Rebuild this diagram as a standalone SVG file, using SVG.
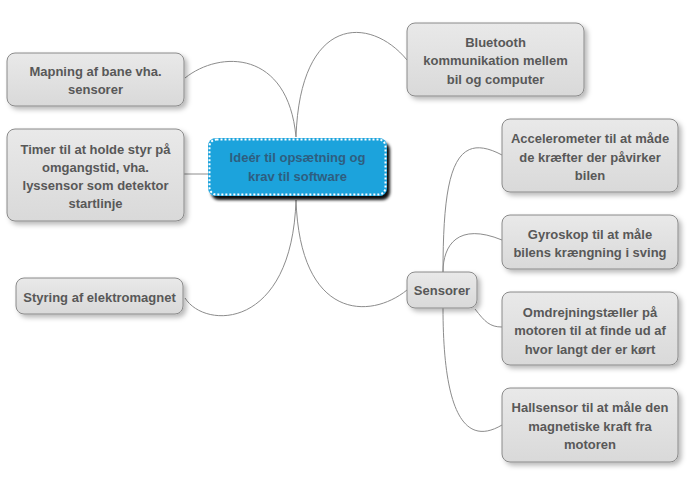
<svg xmlns="http://www.w3.org/2000/svg" width="691" height="478" viewBox="0 0 691 478">
<defs>
<linearGradient id="g" x1="0" y1="0" x2="0" y2="1">
<stop offset="0" stop-color="#e9e9e9"/>
<stop offset="1" stop-color="#d9d9d9"/>
</linearGradient>
<filter id="sh" x="-10%" y="-10%" width="130%" height="140%">
<feDropShadow dx="3" dy="3" stdDeviation="2.5" flood-color="#000" flood-opacity="0.28"/>
</filter>
<filter id="shc" x="-10%" y="-10%" width="130%" height="140%">
<feDropShadow dx="3" dy="4" stdDeviation="1.5" flood-color="#000" flood-opacity="0.95"/>
</filter>
</defs>
<style>
.box{fill:url(#g);stroke:#8a8a8a;stroke-width:1;filter:url(#sh)}
.t{font-family:"Liberation Sans",Arial,sans-serif;font-size:13px;font-weight:bold;fill:#585858;text-anchor:middle}
.ct{font-family:"Liberation Sans",Arial,sans-serif;font-size:13px;font-weight:bold;fill:#2e5e80;text-anchor:middle}
.c{fill:none;stroke:#8c8c8c;stroke-width:1}
</style>
<rect width="691" height="478" fill="#fff"/>
<g id="connectors">
<path class="c" d="M296 137 C288 50,220 50,185 78"/>
<path class="c" d="M296 137 C300 15,370 15,407 60"/>
<path class="c" d="M184 174 L208 174"/>
<path class="c" d="M296 200 C292 330,205 330,185 298"/>
<path class="c" d="M296 200 C300 320,370 320,407 290"/>
<path class="c" d="M443 272 C443 170,455 130,502 155"/>
<path class="c" d="M443 272 C443 245,458 222,502 240"/>
<path class="c" d="M475 309 C485 322,490 327,502 327"/>
<path class="c" d="M443 308 C443 400,460 450,502 425"/>
</g>
<g id="central">
<rect x="208" y="138" width="179" height="58" rx="8" fill="#1fa3dc" filter="url(#shc)"/>
<rect x="209.5" y="139.5" width="176" height="55" rx="7" fill="none" stroke="#fff" stroke-width="2" stroke-dasharray="2 2"/>
<text class="ct" x="297.5" y="161.5">Ideér til opsætning og</text>
<text class="ct" x="297.5" y="180.5">krav til software</text>
</g>
<g id="mapning">
<rect class="box" x="7" y="53" width="177" height="53" rx="8"/>
<text class="t" x="95.5" y="76">Mapning af bane vha.</text>
<text class="t" x="95.5" y="94">sensorer</text>
</g>
<g id="timer">
<rect class="box" x="7" y="129" width="177" height="92" rx="8"/>
<text class="t" x="95.5" y="154">Timer til at holde styr på</text>
<text class="t" x="95.5" y="172">omgangstid, vha.</text>
<text class="t" x="95.5" y="190">lyssensor som detektor</text>
<text class="t" x="95.5" y="208">startlinje</text>
</g>
<g id="styring">
<rect class="box" x="16" y="278" width="167" height="36" rx="8"/>
<text class="t" x="99.5" y="301.5">Styring af elektromagnet</text>
</g>
<g id="bluetooth">
<rect class="box" x="407" y="23" width="177" height="73" rx="8"/>
<text class="t" x="495.5" y="46.5">Bluetooth</text>
<text class="t" x="495.5" y="65">kommunikation mellem</text>
<text class="t" x="495.5" y="83.5">bil og computer</text>
</g>
<g id="sensorer">
<rect class="box" x="407" y="272" width="70" height="36" rx="8"/>
<text class="t" x="442" y="294.5">Sensorer</text>
</g>
<g id="accelerometer">
<rect class="box" x="502" y="119" width="176" height="73" rx="8"/>
<text class="t" x="590" y="143">Accelerometer til at måde</text>
<text class="t" x="590" y="161.5">de kræfter der påvirker</text>
<text class="t" x="590" y="180">bilen</text>
</g>
<g id="gyroskop">
<rect class="box" x="502" y="215" width="176" height="54" rx="8"/>
<text class="t" x="590" y="239">Gyroskop til at måle</text>
<text class="t" x="590" y="257">bilens krængning i sving</text>
</g>
<g id="omdrejning">
<rect class="box" x="502" y="292" width="176" height="73" rx="8"/>
<text class="t" x="590" y="316.5">Omdrejningstæller på</text>
<text class="t" x="590" y="335">motoren til at finde ud af</text>
<text class="t" x="590" y="353.5">hvor langt der er kørt</text>
</g>
<g id="hallsensor">
<rect class="box" x="502" y="388" width="176" height="74" rx="8"/>
<text class="t" x="590" y="412">Hallsensor til at måle den</text>
<text class="t" x="590" y="430.5">magnetiske kraft fra</text>
<text class="t" x="590" y="449">motoren</text>
</g>
</svg>
